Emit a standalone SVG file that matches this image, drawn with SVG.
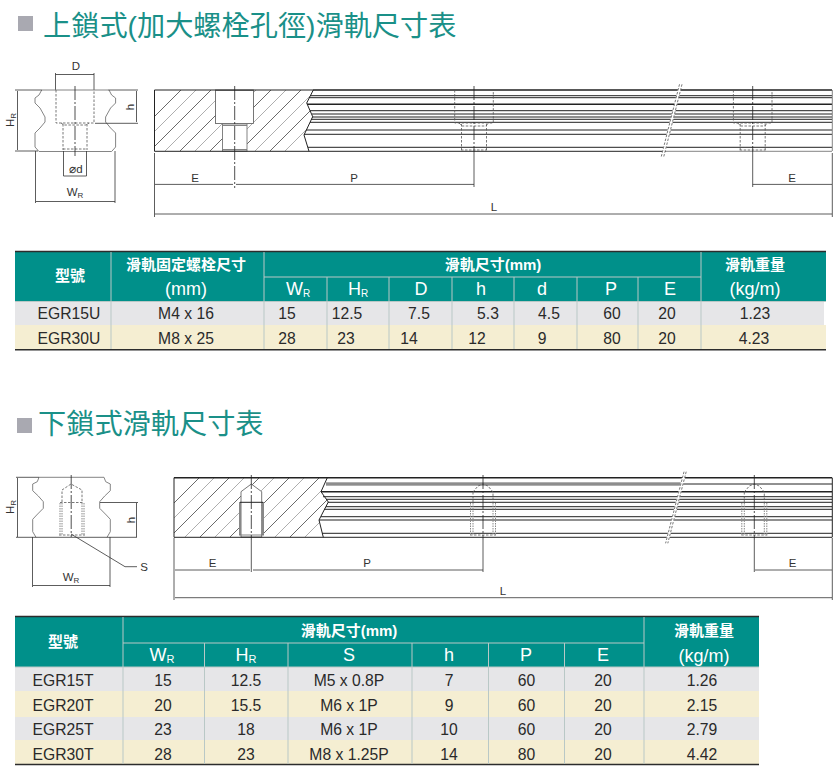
<svg xmlns="http://www.w3.org/2000/svg" xmlns:xlink="http://www.w3.org/1999/xlink" width="840" height="781" viewBox="0 0 840 781">
<style>
text{font-family:"Liberation Sans","Noto Sans CJK TC",sans-serif}
.title{font-size:28.2px;fill:#1a9088}
.h{font-size:15px;fill:#fff;text-anchor:middle;font-weight:700}
.hl{font-size:18px;fill:#fff;text-anchor:middle}
.c{font-size:15.7px;fill:#2a2a2a;text-anchor:middle}
.d{font-size:11.5px;fill:#333;text-anchor:middle}
.sub{font-size:8px}
.sep{stroke:#b9c8c6;stroke-width:1;fill:none}
.rule{stroke:#2c2c2c;stroke-width:1.6;fill:none}
.l{stroke:#333;stroke-width:.8;fill:none}
.lg{stroke:#777;stroke-width:.9;fill:none}
.k{stroke:#222;stroke-width:1;fill:none}
.kk{stroke:#222;stroke-width:1.4;fill:none}
.hat{stroke:#444;stroke-width:.8;fill:none}
.hat2{stroke:#999;stroke-width:.8;fill:none}
.ds{stroke:#555;stroke-width:.8;fill:none;stroke-dasharray:2.5 1.5}
.dt{stroke:#888;stroke-width:1;fill:none;stroke-dasharray:1.5 1}
.ax{stroke:#222;stroke-width:.8;fill:none;stroke-dasharray:14 2 2 2}
</style>
<defs>
<clipPath id="clipA"><path d="M154.5 90H313.3L306.7 103L312.7 116.7L304 135L309 151.3H154.5Z"/></clipPath>
<clipPath id="clipB"><path d="M174 477.7H327.3L321 491.7L328.3 502L319 520L323.3 537.3H174Z"/></clipPath>
<g id="hole1"><path class="ds" d="M-19.3 90V123H19.3V90M-12.5 124V150M12.5 124V150M-15 123L-12 126H12L15 123M-13 150H13" /></g>
<g id="hole2"><path class="ds" d="M-10 492V502M-10 492L-5 486L0 484L5 486L10 492V502M-12 502.5H12"/><path class="dt" d="M-12.5 503V535M-10 503V535M12.5 503V535M10 503V535"/><path class="ds" d="M-13 535H13"/></g>
</defs>

<g id="title-1"><rect x="18" y="16" width="15" height="15" fill="#a9a9b1"/><text class="title" x="43" y="36">上鎖式(加大螺栓孔徑)滑軌尺寸表</text></g>
<g id="title-2"><rect x="17" y="418" width="15" height="15" fill="#a9a9b1"/><text class="title" x="38" y="434">下鎖式滑軌尺寸表</text></g>

<g id="section-1">
<path class="lg" d="M41.7 90L39 95L35 98V103L40 108L45 117V122L40 128L35 133V147L39 151.5H111.6L115.6 147V133L110.6 128L105.6 122V117L110.6 108L115.6 103V98L111.6 95L109 90"/>
<path class="l" d="M15 90H42M108 90H138M15 151H38M95 123.3H138M17.5 91V150M136.5 91V122M55.5 74.5H94M55.5 73V90M94 73V90M63.5 151V176M86.5 151V176M63.5 176H86.5M35.5 151V203M115 151V203M36 201.5H115"/>
<path class="lg" d="M42 90H108"/>
<path class="ds" d="M56 90V123H94V90M63 124V150M87 124V150M61 123L64 125H86L89 123M63 149H87"/>
<path class="ax" d="M75 86V156"/>
<text class="d" x="76" y="70">D</text>
<text class="d" x="76" y="173">⌀d</text>
<text class="d" x="75" y="196">W<tspan class="sub" dy="2">R</tspan></text>
<text class="d" transform="translate(14,120) rotate(-90)">H<tspan class="sub" dy="2">R</tspan></text>
<text class="d" transform="translate(134,107) rotate(-90)">h</text>
</g>

<g id="side-1">
<g clip-path="url(#clipA)">
<path class="hat" d="M120 151L181 90M150 151L211 90M180 151L241 90M210 151L271 90M240 151L301 90M270 151L331 90"/>
<path class="hat2" d="M135 151L196 90M165 151L226 90M195 151L256 90M225 151L286 90M255 151L316 90M285 151L346 90"/>
</g>
<rect x="215.5" y="90" width="38" height="33.5" fill="#fff" stroke="#555" stroke-width=".8"/>
<rect x="222.5" y="124" width="24.5" height="27" fill="#fff" stroke="#777" stroke-width=".9"/>
<path class="lg" d="M215.5 90.5H253.5M222.5 149.5H247M222.5 125.5H247"/>
<path class="k" d="M154.5 90V151.3M154.5 90H313M154.5 151.3H309M313.3 90L306.7 103L312.7 116.7L304 135L309 151.3"/>
<path class="kk" d="M313 90H832M307 104.3H832"/>
<path class="k" d="M311 95.7H832M310 97.7H832M310 110.7H832M312 114H832M312 117H832M311 119.3H832M310 122.3H832M306 130H832M304 134.3H832M308 147.3H832M309 151.3H666"/>
<path class="lg" d="M666 151.3H832M832.3 90V151"/>
<path d="M680.7 84.3L662.5 156.5" stroke="#fff" stroke-width="3" fill="none"/>
<path class="ds" d="M679.5 84.3L661.3 156.5M682 84.3L663.8 156.5"/>
<use xlink:href="#hole1" href="#hole1" x="474"/>
<use xlink:href="#hole1" href="#hole1" x="752.7"/>
<path class="ax" d="M234.7 86V188M474 86V152M752.7 86V152"/>
<path class="l" d="M154.5 153V217M474 152V187M752.7 152V187M832.3 153V217M155 184.4H233M236 184.4H474M752.7 184.4H832M155 214H832"/>
<text class="d" x="195" y="182">E</text>
<text class="d" x="354" y="182">P</text>
<text class="d" x="494" y="211">L</text>
<text class="d" x="792" y="182">E</text>
</g>

<g id="section-2">
<path class="lg" d="M39 477.3L37.3 481.7L32.7 484V490.7L38.3 496L43.3 501.7V508.3L36.7 515L32.7 519.3V531.7L36 537.3M104 477.3L105.7 481.7L110.3 484V490.7L104.7 496L99.7 501.7V508.3L106.3 515L110.3 519.3V531.7L107 537.3M39 477.3H104"/>
<path class="l" d="M16 477.3H39M16 537.3H137M100 502.5H138M17.5 478V537M136.5 503V537M32.5 537V587M110 537V587M33 585.5H110M71 534L125 566.7H137"/>
<path class="ds" d="M62 502V490L71 484L82 490V502M60 502.5H84M59 535H85"/>
<path class="dt" d="M60 503V535M62 503V535M82 503V535M84 503V535"/>
<path class="ax" d="M71.2 475V537"/>
<text class="d" x="144" y="571">S</text>
<text class="d" x="71" y="581">W<tspan class="sub" dy="2">R</tspan></text>
<text class="d" transform="translate(14,507) rotate(-90)">H<tspan class="sub" dy="2">R</tspan></text>
<text class="d" transform="translate(135,520) rotate(-90)">h</text>
</g>

<g id="side-2">
<g clip-path="url(#clipB)">
<path class="hat" d="M140 537L200 477M170 537L230 477M200 537L260 477M230 537L290 477M260 537L320 477M290 537L350 477"/>
<path class="hat2" d="M155 537L215 477M185 537L245 477M215 537L275 477M245 537L305 477M275 537L335 477M305 537L365 477"/>
</g>
<path d="M241 537V491.7L251.3 484L261.7 491.7V537Z" fill="#fff" stroke="#666" stroke-width=".9"/>
<path d="M240 502V535M263 502V535" stroke="#888" stroke-width="2" fill="none"/>
<path class="k" d="M240 502.3H263"/>
<path class="lg" d="M239 535H264"/>
<path class="k" d="M174 477.7V537.3M174 537.3H832M327.3 477.7L321 491.7L328.3 502L319 520L323.3 537.3"/>
<path class="kk" d="M174 477.7H832M321 491.7H832"/>
<rect x="326" y="482.3" width="355" height="3.4" fill="#8d8d8d"/>
<path class="k" d="M681 484H832M323 496.7H832M326 499.3H832M328 502.3H832M326 506.7H832M324 509.3H832M321 516.7H832M319 520H832M322 533.3H832M832.3 477.7V537.3"/>
<path d="M685 471.7L666.7 543.3" stroke="#fff" stroke-width="3" fill="none"/>
<path class="ds" d="M684 471.7L665.6 543.3M686.2 471.7L667.8 543.3"/>
<use xlink:href="#hole2" href="#hole2" x="483"/>
<use xlink:href="#hole2" href="#hole2" x="754.3"/>
<path class="ax" d="M251.3 475V540M483 475V540M754.3 475V540"/>
<path class="l" d="M174 538V600M251.3 540V572M483 540V572M754.3 540V572M832.3 538V600M175 570H250M253 570H483M755 570H832M175 597.7H832"/>
<text class="d" x="212.7" y="567">E</text>
<text class="d" x="367" y="567">P</text>
<text class="d" x="503" y="595">L</text>
<text class="d" x="792.7" y="567">E</text>
</g>

<g id="table-1">
<rect x="15" y="251" width="811" height="51" fill="#00908a"/>
<rect x="15" y="302" width="809" height="23" fill="#e6e6e8"/>
<rect x="15" y="325" width="811" height="24" fill="#f5eed2"/>
<path class="rule" d="M15 251.5H826M15 349.7H826"/>
<path class="sep" d="M264 277H701M15 301.5H826M111 252V349M264 252V349M327 277V349M389 277V349M452 277V349M514 277V349M577 277V349M638 277V349M701 252V349"/>
<text class="h" x="70" y="281">型號</text>
<text class="h" x="186" y="270">滑軌固定螺栓尺寸</text>
<text class="hl" x="186" y="295">(mm)</text>
<text class="h" x="493" y="270">滑軌尺寸(mm)</text>
<text class="h" x="755" y="270">滑軌重量</text>
<text class="hl" x="755" y="295">(kg/m)</text>
<text class="hl" x="298" y="295">W<tspan font-size="10" dy="2">R</tspan></text>
<text class="hl" x="358" y="295">H<tspan font-size="10" dy="2">R</tspan></text>
<text class="hl" x="421" y="295">D</text>
<text class="hl" x="481" y="295">h</text>
<text class="hl" x="542" y="295">d</text>
<text class="hl" x="611" y="295">P</text>
<text class="hl" x="670" y="295">E</text>
<g class="row">
<text class="c" x="69" y="319">EGR15U</text><text class="c" x="186" y="319">M4 x 16</text><text class="c" x="287" y="319">15</text><text class="c" x="347" y="319">12.5</text><text class="c" x="419" y="319">7.5</text><text class="c" x="488" y="319">5.3</text><text class="c" x="549" y="319">4.5</text><text class="c" x="612" y="319">60</text><text class="c" x="667" y="319">20</text><text class="c" x="755" y="319">1.23</text>
</g>
<g class="row">
<text class="c" x="69" y="344">EGR30U</text><text class="c" x="186" y="344">M8 x 25</text><text class="c" x="287" y="344">28</text><text class="c" x="346" y="344">23</text><text class="c" x="409" y="344">14</text><text class="c" x="477" y="344">12</text><text class="c" x="542" y="344">9</text><text class="c" x="612" y="344">80</text><text class="c" x="667" y="344">20</text><text class="c" x="754" y="344">4.23</text>
</g>
</g>

<g id="table-2">
<rect x="15" y="616" width="744" height="51" fill="#00908a"/>
<rect x="15" y="667" width="744" height="24" fill="#e6e6e8"/>
<rect x="15" y="691" width="744" height="26" fill="#f5eed2"/>
<rect x="15" y="717" width="744" height="23" fill="#e6e6e8"/>
<rect x="15" y="740" width="744" height="24" fill="#f5eed2"/>
<path class="rule" d="M15 616.5H759M15 764.5H759"/>
<path class="sep" d="M123 643H644M15 667H759M123 617V764M204.5 643V764M288 643V764M412 643V764M488.5 643V764M564.5 643V764M644 617V764"/>
<text class="h" x="63" y="647">型號</text>
<text class="h" x="349" y="636">滑軌尺寸(mm)</text>
<text class="h" x="704" y="636">滑軌重量</text>
<text class="hl" x="704" y="662">(kg/m)</text>
<text class="hl" x="162" y="661">W<tspan font-size="11" dy="2">R</tspan></text>
<text class="hl" x="246" y="661">H<tspan font-size="11" dy="2">R</tspan></text>
<text class="hl" x="349" y="661">S</text>
<text class="hl" x="449" y="661">h</text>
<text class="hl" x="526" y="661">P</text>
<text class="hl" x="603" y="661">E</text>
<g class="row"><text class="c" x="63" y="686">EGR15T</text><text class="c" x="163" y="686">15</text><text class="c" x="246" y="686">12.5</text><text class="c" x="349" y="686">M5 x 0.8P</text><text class="c" x="449" y="686">7</text><text class="c" x="526.5" y="686">60</text><text class="c" x="603" y="686">20</text><text class="c" x="702" y="686">1.26</text></g>
<g class="row"><text class="c" x="63" y="711">EGR20T</text><text class="c" x="163" y="711">20</text><text class="c" x="246" y="711">15.5</text><text class="c" x="349" y="711">M6 x 1P</text><text class="c" x="449" y="711">9</text><text class="c" x="526.5" y="711">60</text><text class="c" x="603" y="711">20</text><text class="c" x="702" y="711">2.15</text></g>
<g class="row"><text class="c" x="63" y="735">EGR25T</text><text class="c" x="163" y="735">23</text><text class="c" x="246" y="735">18</text><text class="c" x="349" y="735">M6 x 1P</text><text class="c" x="449" y="735">10</text><text class="c" x="526.5" y="735">60</text><text class="c" x="603" y="735">20</text><text class="c" x="702" y="735">2.79</text></g>
<g class="row"><text class="c" x="63" y="760">EGR30T</text><text class="c" x="163" y="760">28</text><text class="c" x="246" y="760">23</text><text class="c" x="349" y="760">M8 x 1.25P</text><text class="c" x="449" y="760">14</text><text class="c" x="526.5" y="760">80</text><text class="c" x="603" y="760">20</text><text class="c" x="702" y="760">4.42</text></g>
</g>
</svg>
